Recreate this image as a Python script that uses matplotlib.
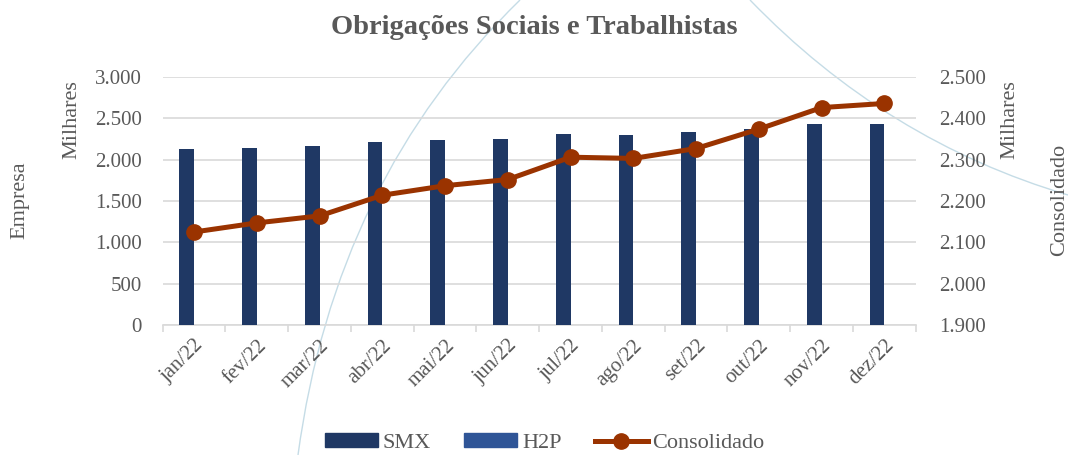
import numpy as np
import matplotlib
matplotlib.use("Agg")
from matplotlib import pyplot as plt
from matplotlib.path import Path
from matplotlib.patches import PathPatch
from matplotlib.lines import Line2D
from matplotlib.patches import Patch
from matplotlib.ticker import FuncFormatter

months = ["jan/22", "fev/22", "mar/22", "abr/22", "mai/22", "jun/22",
          "jul/22", "ago/22", "set/22", "out/22", "nov/22", "dez/22"]
smx = [2125, 2146, 2163, 2214, 2234, 2250, 2308, 2302, 2330, 2374, 2427, 2435]
h2p = [0, 0, 0, 0, 0, 0, 0, 0, 0, 0, 0, 0]
consolidado = [2125, 2147, 2164, 2214, 2237, 2252, 2306, 2303, 2327, 2374, 2426, 2436]

grey = "#595959"
plt.rcParams["font.family"] = ["Liberation Serif", "DejaVu Serif"]

W, H = 1068, 455
fig = plt.figure(figsize=(W / 100, H / 100), dpi=100)
ax = fig.add_axes([162.7 / W, 1 - 325 / H, (915.7 - 162.7) / W, (325 - 77) / H])
ax2 = ax.twinx()


def px(x, y):
    return (x / W, 1 - y / H)


# decorative arcs behind the chart
for p0, c, p2 in [((298, 455), (335, 180), (520, 0)),
                  ((750, 0), (886, 141), (1068, 195))]:
    path = Path([px(*p0), px(*c), px(*p2)], [Path.MOVETO, Path.CURVE3, Path.CURVE3])
    fig.add_artist(PathPatch(path, transform=fig.transFigure, fill=False,
                             edgecolor="#C5DCE6", lw=1.0, zorder=0))

x = np.arange(len(months))
bw = 0.235
ax.bar(x - bw / 2, smx, bw, color="#1F3864", zorder=3)
ax.bar(x + bw / 2, h2p, bw, color="#2F5597", zorder=3)
ax2.plot(x, consolidado, color="#9A3300", lw=3.6, marker="o", ms=11, zorder=4)

ax.set_xlim(-0.5, len(months) - 0.5)
ax.set_ylim(0, 3000)
ax2.set_ylim(1900, 2500)
ax.set_yticks(np.arange(0, 3001, 500))
ax2.set_yticks(np.arange(1900, 2501, 100))
fmt = FuncFormatter(lambda v, p: f"{int(v):,}".replace(",", "."))
ax.yaxis.set_major_formatter(fmt)
ax2.yaxis.set_major_formatter(fmt)

ax.grid(axis="y", color="#D9D9D9", lw=1.2, zorder=0)
ax.set_axisbelow(True)
for a in (ax, ax2):
    for s in a.spines.values():
        s.set_visible(False)
ax.spines["bottom"].set_visible(True)
ax.spines["bottom"].set_color("#D9D9D9")
ax.spines["bottom"].set_linewidth(1.2)
ax.patch.set_visible(False)

ax.set_xticks(x)
ax.set_xticklabels(months, rotation=45, ha="right", rotation_mode="anchor")
ax.set_xticks(np.arange(-0.5, len(months), 1), minor=True)
ax.tick_params(axis="x", which="major", length=0, pad=8, labelsize=15, labelcolor=grey)
ax.tick_params(axis="x", which="minor", length=5, color="#D9D9D9", width=1.2)
ax.tick_params(axis="y", length=0, pad=15, labelsize=15, labelcolor=grey)
ax2.tick_params(axis="y", length=0, pad=17, labelsize=15, labelcolor=grey)

fig.text(20 / W, 1 - 200 / H, "Empresa", rotation=90, ha="center", va="center",
         fontsize=16, color=grey)
fig.text(72 / W, 1 - 120 / H, "Milhares", rotation=90, ha="center", va="center",
         fontsize=16, color=grey)
fig.text(1010 / W, 1 - 120 / H, "Milhares", rotation=90, ha="center", va="center",
         fontsize=16, color=grey)
fig.text(1060 / W, 1 - 200 / H, "Consolidado", rotation=90, ha="center", va="center",
         fontsize=16, color=grey)

fig.text(0.5, 1 - 28 / H, "Obrigações Sociais e Trabalhistas", ha="center", va="center",
         fontsize=20.5, fontweight="bold", color=grey)

handles = [Patch(color="#1F3864", label="SMX"),
           Patch(color="#2F5597", label="H2P"),
           Line2D([], [], color="#9A3300", lw=3.6, marker="o", ms=11, label="Consolidado")]
fig.legend(handles=handles, loc="center", bbox_to_anchor=(0.51, 1 - 443 / H), ncol=3,
           frameon=False, fontsize=16, labelcolor=grey, handlelength=2.4,
           handleheight=0.6, columnspacing=1.5, handletextpad=0.2)

fig.savefig("out.png", dpi=100)
